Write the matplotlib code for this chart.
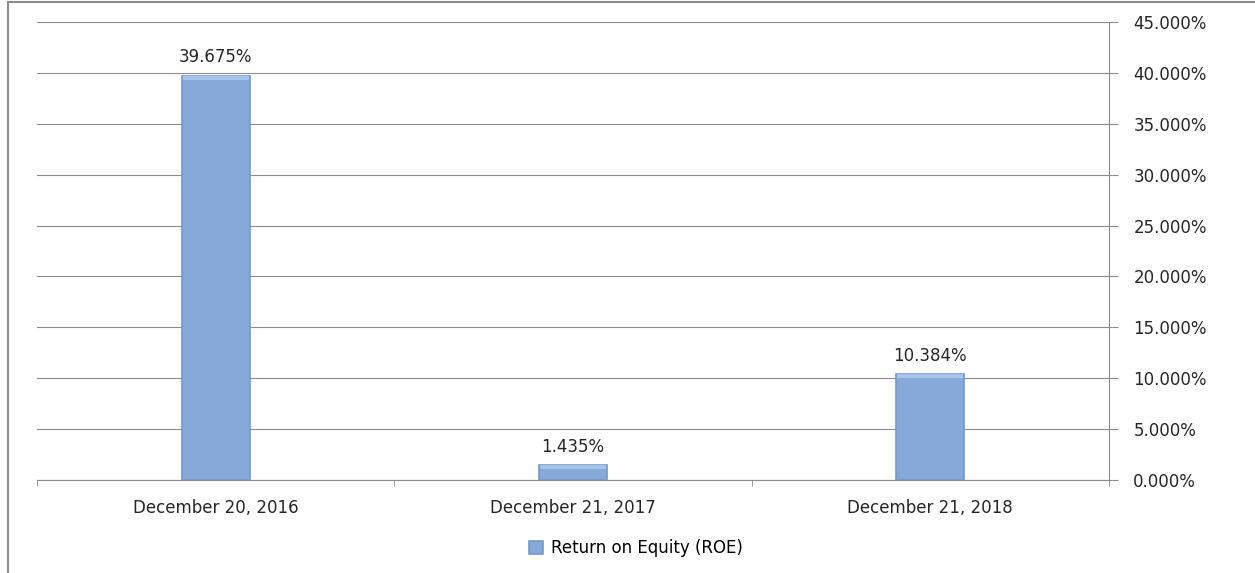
import matplotlib
matplotlib.use('Agg')
import matplotlib.pyplot as plt
from matplotlib.lines import Line2D
from matplotlib.ticker import FuncFormatter

plt.rcParams['font.family'] = ['DejaVu Sans']

categories = ['December 20, 2016', 'December 21, 2017', 'December 21, 2018']
roe = [39.675, 1.435, 10.384]
series_name = 'Return on Equity (ROE)'

W, H = 1255, 573
fig = plt.figure(figsize=(W / 100, H / 100), dpi=100)
ax = fig.add_axes([37 / W, 1 - 480 / H, (1109 - 37) / W, (480 - 22) / H])

x = list(range(len(categories)))
bar_w = 0.19
ax.bar(x, roe, width=bar_w, color='#86A9D9', edgecolor='#7698C8',
       linewidth=1.2, label=series_name, zorder=3)
# soft bevel along the top of each bar
bevel = 0.35
ax.bar(x, [bevel] * len(roe), bottom=[v - bevel for v in roe], width=bar_w * 0.97,
       color='#A6C3EA', linewidth=0, zorder=4)

for xi, v in zip(x, roe):
    ax.annotate(f'{v:.3f}%', (xi, v), xytext=(0, 7), textcoords='offset points',
                ha='center', va='bottom', fontsize=12, color='#262626')

ax.set_xlim(-0.5, len(categories) - 0.5)
ax.set_ylim(0, 45)
ax.set_yticks(range(0, 46, 5))
ax.yaxis.set_major_formatter(FuncFormatter(lambda v, p: f'{v:.3f}%'))
ax.yaxis.tick_right()
ax.tick_params(axis='y', length=6.5, color='#8c8c8c', labelsize=12,
               labelcolor='#262626', pad=11)
ax.grid(axis='y', color='#8c8c8c', linewidth=0.8, zorder=0)

ax.set_xticks(x)
ax.set_xticklabels(categories)
ax.set_xticks([-0.5, 0.5, 1.5, 2.5], minor=True)
ax.tick_params(axis='x', which='major', length=0, labelsize=12,
               labelcolor='#262626', pad=14)
ax.tick_params(axis='x', which='minor', length=4, color='#8c8c8c')

for side in ['left', 'top']:
    ax.spines[side].set_visible(False)
for side in ['right', 'bottom']:
    ax.spines[side].set_color('#8c8c8c')

ax.legend(loc='center', bbox_to_anchor=(636 / W, 1 - 548 / H),
          bbox_transform=fig.transFigure, frameon=False, fontsize=12,
          handlelength=0.8, handleheight=0.8, handletextpad=0.5)

# outer chart border
fig.add_artist(Line2D([8 / W, 8 / W], [0, 1 - 2 / H], transform=fig.transFigure,
                      color='#8c8c8c', linewidth=1.5))
fig.add_artist(Line2D([8 / W, 1], [1 - 2 / H, 1 - 2 / H], transform=fig.transFigure,
                      color='#8c8c8c', linewidth=1.5))

fig.savefig('out.png', dpi=100)
